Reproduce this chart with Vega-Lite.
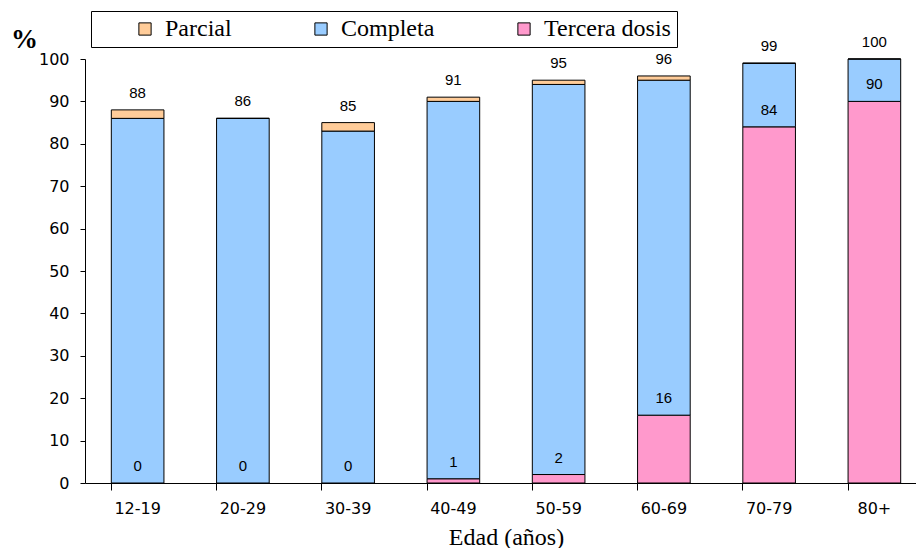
{
  "$schema": "https://vega.github.io/schema/vega-lite/v6.json",
  "width": 831,
  "height": 424,
  "autosize": {"type": "none"},
  "padding": {"left": 85, "top": 59, "right": 0, "bottom": 65},
  "background": "white",
  "config": {
    "view": {"stroke": null},
    "axis": {"grid": false, "domainColor": "#000", "tickColor": "#000", "labelColor": "#000", "titleColor": "#000"}
  },
  "datasets": {
    "barras": [
      {"edad": "12-19", "serie": "Tercera dosis", "capa": 1, "valor": 0},
      {"edad": "12-19", "serie": "Completa", "capa": 2, "valor": 86},
      {"edad": "12-19", "serie": "Parcial", "capa": 3, "valor": 2},
      {"edad": "20-29", "serie": "Tercera dosis", "capa": 1, "valor": 0},
      {"edad": "20-29", "serie": "Completa", "capa": 2, "valor": 86},
      {"edad": "20-29", "serie": "Parcial", "capa": 3, "valor": 0},
      {"edad": "30-39", "serie": "Tercera dosis", "capa": 1, "valor": 0},
      {"edad": "30-39", "serie": "Completa", "capa": 2, "valor": 83},
      {"edad": "30-39", "serie": "Parcial", "capa": 3, "valor": 2},
      {"edad": "40-49", "serie": "Tercera dosis", "capa": 1, "valor": 1},
      {"edad": "40-49", "serie": "Completa", "capa": 2, "valor": 89},
      {"edad": "40-49", "serie": "Parcial", "capa": 3, "valor": 1},
      {"edad": "50-59", "serie": "Tercera dosis", "capa": 1, "valor": 2},
      {"edad": "50-59", "serie": "Completa", "capa": 2, "valor": 92},
      {"edad": "50-59", "serie": "Parcial", "capa": 3, "valor": 1},
      {"edad": "60-69", "serie": "Tercera dosis", "capa": 1, "valor": 16},
      {"edad": "60-69", "serie": "Completa", "capa": 2, "valor": 79},
      {"edad": "60-69", "serie": "Parcial", "capa": 3, "valor": 1},
      {"edad": "70-79", "serie": "Tercera dosis", "capa": 1, "valor": 84},
      {"edad": "70-79", "serie": "Completa", "capa": 2, "valor": 15},
      {"edad": "70-79", "serie": "Parcial", "capa": 3, "valor": 0},
      {"edad": "80+", "serie": "Tercera dosis", "capa": 1, "valor": 90},
      {"edad": "80+", "serie": "Completa", "capa": 2, "valor": 10},
      {"edad": "80+", "serie": "Parcial", "capa": 3, "valor": 0}
    ],
    "etiquetas": [
      {"edad": "12-19", "total": 88, "tercera": 0},
      {"edad": "20-29", "total": 86, "tercera": 0},
      {"edad": "30-39", "total": 85, "tercera": 0},
      {"edad": "40-49", "total": 91, "tercera": 1},
      {"edad": "50-59", "total": 95, "tercera": 2},
      {"edad": "60-69", "total": 96, "tercera": 16},
      {"edad": "70-79", "total": 99, "tercera": 84},
      {"edad": "80+", "total": 100, "tercera": 90}
    ]
  },
  "layer": [
    {
      "data": {"name": "barras"},
      "mark": {"type": "bar", "stroke": "#000", "strokeWidth": 1},
      "encoding": {
        "x": {
          "field": "edad", "type": "nominal", "sort": null,
          "scale": {"paddingInner": 0.5, "paddingOuter": 0.25, "range": [0, 842]},
          "axis": {
            "title": "Edad (años)", "titleFont": "Liberation Serif", "titleFontSize": 24, "titleFontWeight": "normal",
            "titleBaseline": "alphabetic", "titleY": 61, "titleX": 421,
            "labelFont": "DejaVu Sans", "labelFontSize": 16, "labelAngle": 0, "labelPadding": 10,
            "tickSize": 7, "bandPosition": 0
          }
        },
        "y": {
          "field": "valor", "type": "quantitative", "stack": "zero",
          "scale": {"domain": [0, 100], "nice": false},
          "axis": {
            "values": [0, 5, 10, 15, 20, 25, 30, 35, 40, 45, 50, 55, 60, 65, 70, 75, 80, 85, 90, 95, 100],
            "labelExpr": "datum.value % 10 === 0 ? datum.label : ''",
            "labelFont": "DejaVu Sans", "labelFontSize": 16, "labelPadding": 11, "tickSize": 5,
            "title": "%", "titleFont": "Liberation Serif", "titleFontSize": 27, "titleFontWeight": "bold",
            "titleAngle": 0, "titleX": -61, "titleY": -12, "titleAlign": "center", "titleBaseline": "alphabetic"
          }
        },
        "color": {
          "field": "serie", "type": "nominal",
          "scale": {"domain": ["Parcial", "Completa", "Tercera dosis"], "range": ["#FFCC99", "#99CCFF", "#FF99CC"]},
          "legend": {
            "title": "\u00a0", "titleOrient": "left", "titleFontSize": 2, "titlePadding": 36,
            "orient": "none", "direction": "horizontal", "legendX": 6, "legendY": -48,
            "strokeColor": "#000", "fillColor": "#fff", "padding": 6,
            "labelFont": "Liberation Serif", "labelFontSize": 24, "labelColor": "#000", "labelOffset": 8,
            "symbolType": "square", "symbolSize": 150, "symbolStrokeColor": "#000", "symbolStrokeWidth": 1,
            "columnPadding": 77
          }
        },
        "order": {"field": "capa", "type": "quantitative"}
      }
    },
    {
      "data": {"name": "etiquetas"},
      "mark": {"type": "text", "dy": -17, "baseline": "middle", "font": "Liberation Sans", "fontSize": 15, "color": "#000"},
      "encoding": {
        "x": {"field": "edad", "type": "nominal", "sort": null},
        "y": {"field": "total", "type": "quantitative"},
        "text": {"field": "total"}
      }
    },
    {
      "data": {"name": "etiquetas"},
      "mark": {"type": "text", "dy": -17, "baseline": "middle", "font": "Liberation Sans", "fontSize": 15, "color": "#000"},
      "encoding": {
        "x": {"field": "edad", "type": "nominal", "sort": null},
        "y": {"field": "tercera", "type": "quantitative"},
        "text": {"field": "tercera"}
      }
    }
  ]
}
